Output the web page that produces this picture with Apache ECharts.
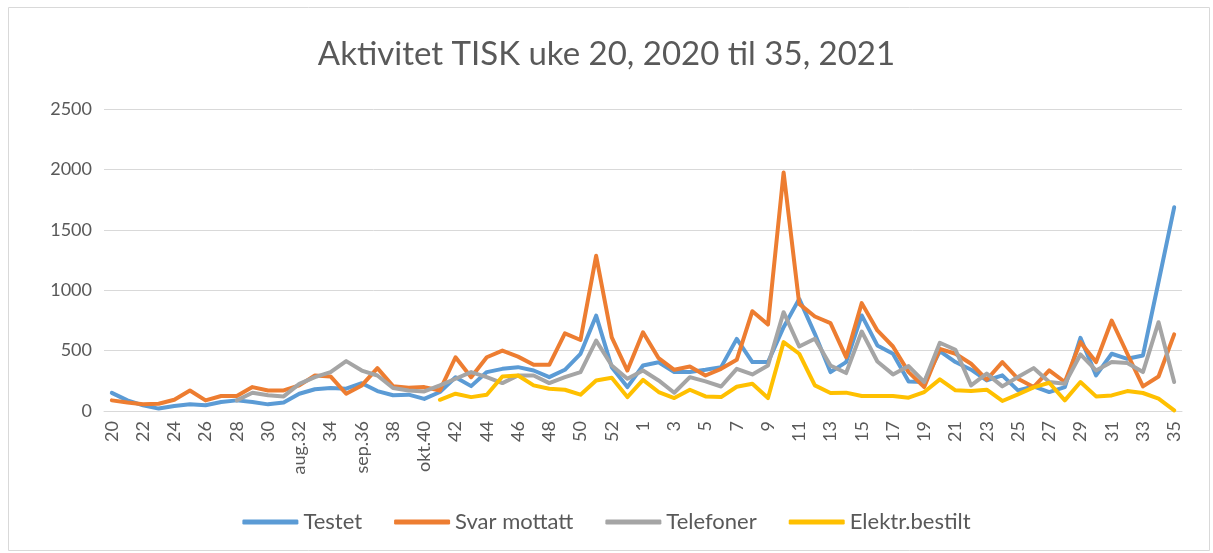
<!DOCTYPE html>
<html>
<head>
<meta charset="utf-8">
<script src="https://cdn.jsdelivr.net/npm/echarts@6/dist/echarts.min.js"></script>
<style>
html,body{margin:0;padding:0;background:#fff;}
#chart{width:1213px;height:553px;}
</style>
</head>
<body>
<div id="chart"></div>
<script>
// uker 20-53 (2020) og 1-35 (2021)
var uker = ['20','21','22','23','24','25','26','27','28','29','30','31','aug.32','33','34','35','sep.36','37','38','39','okt.40',
  '41','42','43','44','45','46','47','48','49','50','51','52','53',
  '1','2','3','4','5','6','7','8','9','10','11','12','13','14','15','16','17','18','19','20',
  '21','22','23','24','25','26','27','28','29','30','31','32','33','34','35'];

var testet = [150,88,47,20,41,55,47,74,88,74,55,70,143,180,190,185,230,165,130,135,100,
  157,280,206,322,349,363,335,280,341,473,789,363,198,377,404,322,322,341,363,597,
  405,405,694,928,639,322,405,791,543,474,245,240,496,405,342,253,295,171,204,157,198,606,295,474,432,460,1070,1686];

var svar = [88,70,55,60,93,170,88,124,124,198,170,170,212,294,286,143,212,355,206,193,198,
  170,445,280,445,500,450,382,382,643,588,1285,610,335,652,437,341,368,294,349,424,
  826,716,1975,887,782,727,446,893,667,534,322,198,515,474,391,259,405,267,198,336,240,570,405,749,474,204,286,634];

var telefoner = [null,null,null,null,null,null,null,null,88,151,130,121,225,280,322,413,335,294,190,170,162,
  212,267,322,280,231,294,294,231,280,322,583,377,267,335,253,151,280,245,203,349,
  303,377,818,534,598,377,314,658,410,303,372,240,565,507,212,309,204,281,355,240,226,468,336,405,397,322,735,240];

var elektr = [null,null,null,null,null,null,null,null,null,null,null,null,null,null,null,null,null,null,null,null,null,
  93,143,115,135,286,294,212,184,176,135,253,275,115,258,157,107,176,121,115,201,
  226,107,570,474,212,149,152,124,124,124,110,157,262,171,165,176,83,138,195,234,88,240,121,129,165,149,102,5];

var fnt = 'Lato';
var grå = '#595959';

var chart = echarts.init(document.getElementById('chart'));

function linje(navn, data, farge){
  return {
    name: navn,
    type: 'line',
    data: data,
    symbol: 'none',
    connectNulls: false,
    lineStyle: {width: 4, color: farge, cap: 'round', join: 'round'},
    itemStyle: {color: farge}
  };
}

chart.setOption({
  animation: false,
  textStyle: {fontFamily: fnt},
  graphic: [{
    type: 'rect',
    shape: {x: 8.5, y: 7.5, width: 1201, height: 543},
    style: {fill: 'none', stroke: '#d9d9d9', lineWidth: 1},
    silent: true
  }],
  title: {
    text: 'Aktivitet TISK uke 20, 2020 til 35, 2021',
    left: 'center',
    top: 33,
    textStyle: {fontFamily: fnt, fontSize: 33, fontWeight: 'normal', color: grå}
  },
  legend: {
    top: 506,
    left: 'center',
    itemWidth: 56,
    itemHeight: 5,
    itemGap: 32,
    icon: 'roundRect',
    textStyle: {fontFamily: fnt, fontSize: 22, color: grå},
    data: ['Testet','Svar mottatt','Telefoner','Elektr.bestilt']
  },
  grid: {left: 104, right: 31, top: 109, bottom: 142},
  xAxis: {
    type: 'category',
    data: uker,
    boundaryGap: true,
    axisLine: {lineStyle: {color: '#d9d9d9', width: 1}},
    axisTick: {show: false},
    axisLabel: {interval: 1, rotate: 90, fontFamily: fnt, fontSize: 18, color: grå, margin: 10}
  },
  yAxis: {
    type: 'value',
    min: 0,
    max: 2500,
    interval: 500,
    axisLine: {show: false},
    axisTick: {show: false},
    splitLine: {lineStyle: {color: '#d9d9d9', width: 1}},
    axisLabel: {fontFamily: fnt, fontSize: 18, color: grå, margin: 12, formatter: function(v){ return String(v); }}
  },
  series: [
    linje('Testet', testet, '#5b9bd5'),
    linje('Svar mottatt', svar, '#ed7d31'),
    linje('Telefoner', telefoner, '#a5a5a5'),
    linje('Elektr.bestilt', elektr, '#ffc000')
  ]
});
</script>
</body>
</html>
